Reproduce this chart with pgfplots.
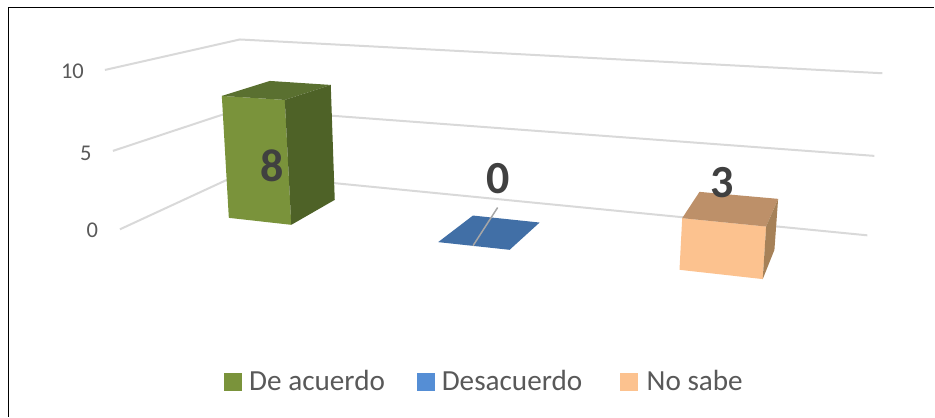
\documentclass[border=0pt]{standalone}
\usepackage{pgfplots}
\pgfplotsset{compat=1.18}
\usepackage{fontspec}
\setmainfont{Carlito}
\definecolor{gridc}{HTML}{D9D9D9}
\definecolor{txt}{HTML}{595959}
\definecolor{lab}{HTML}{404040}
\definecolor{gf}{HTML}{7A933B}
\definecolor{gt}{HTML}{5A7030}
\definecolor{gs}{HTML}{4E6227}
\definecolor{bt}{HTML}{416FA6}
\definecolor{bl}{HTML}{558ED5}
\definecolor{of}{HTML}{FCC28F}
\definecolor{ot}{HTML}{BD9069}
\definecolor{os}{HTML}{A68158}
\begin{document}
\begin{tikzpicture}
\begin{axis}[
  width=935pt,height=417pt,scale only axis,
  xmin=0,xmax=935,ymin=0,ymax=417,y dir=reverse,
  hide axis,clip=false,
  legend columns=3,
  legend style={at={(axis cs:224,381.5)},anchor=west,draw=none,fill=none,
    inner sep=0pt,outer sep=0pt,
    font=\fontsize{29.2}{31}\selectfont,text=txt,
    nodes={inner sep=0pt,outer sep=0pt},
    /tikz/column 1/.style={column sep=8pt},
    /tikz/column 2/.style={column sep=32.5pt},
    /tikz/column 3/.style={column sep=7pt},
    /tikz/column 4/.style={column sep=38pt},
    /tikz/column 5/.style={column sep=9pt}},
  legend image code/.code={\fill[#1] (0pt,-8.5pt) rectangle (17pt,8.5pt);},
]
\addlegendimage{gf}\addlegendentry{De acuerdo}
\addlegendimage{bl}\addlegendentry{Desacuerdo}
\addlegendimage{of}\addlegendentry{No sabe}
\path (axis cs:0,0) rectangle (axis cs:935,417);
% frame
\addplot[black,line width=1.4pt,forget plot] coordinates {(8.5,417) (8.5,7.5) (935,7.5)};
% gridlines
\addplot[gridc,line width=2pt,forget plot] coordinates {(105,70) (240,39.5) (883,73.3)};
\addplot[gridc,line width=2pt,forget plot] coordinates {(113,151) (240,109) (875,156)};
\addplot[gridc,line width=2pt,forget plot] coordinates {(120,229.5) (240,174) (868,235.5)};
% green bar
\addplot[fill=gf,draw=none,forget plot] coordinates {(222,96) (285,100) (291.5,225) (229,218)} --cycle;
\addplot[fill=gt,draw=none,forget plot] coordinates {(222,96) (270,81) (331,85) (285,100)} --cycle;
\addplot[fill=gs,draw=none,forget plot] coordinates {(285,100) (331,85) (335,200) (291.5,225)} --cycle;
% blue floor
\addplot[fill=bt,draw=none,forget plot] coordinates {(438.5,242.3) (473.3,215.7) (540,222.7) (510,250)} --cycle;
\addplot[color=black!35,line width=1.5pt,forget plot] coordinates {(498,207.7) (473.3,246)};
% orange bar
\addplot[fill=of,draw=none,forget plot] coordinates {(682.7,218.3) (766.7,226.7) (763.3,279.3) (680,270)} --cycle;
\addplot[fill=ot,draw=none,forget plot] coordinates {(682.7,218.3) (700,192) (778.7,199) (766.7,226.7)} --cycle;
\addplot[fill=os,draw=none,forget plot] coordinates {(766.7,226.7) (778.7,199) (775,250) (763.3,279.3)} --cycle;
% tick labels
\node[anchor=base,text=txt,font=\fontsize{22.5}{24}\selectfont] at (axis cs:72.5,79) {10};
\node[anchor=base,text=txt,font=\fontsize{22.5}{24}\selectfont] at (axis cs:86,160.7) {5};
\node[anchor=base,text=txt,font=\fontsize{22.5}{24}\selectfont] at (axis cs:92.5,238) {0};
% data labels
\node[anchor=base,text=lab,font=\fontsize{46}{48}\selectfont\bfseries] at (axis cs:272,182) {8};
\node[anchor=base,text=lab,font=\fontsize{46}{48}\selectfont\bfseries] at (axis cs:499,193.5) {0};
\node[anchor=base,text=lab,font=\fontsize{46}{48}\selectfont\bfseries] at (axis cs:723,197.5) {3};
\end{axis}
\end{tikzpicture}
\end{document}
